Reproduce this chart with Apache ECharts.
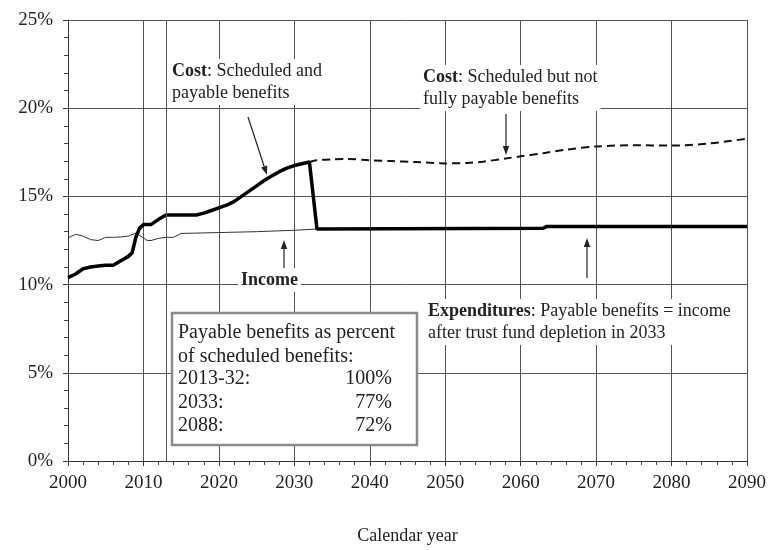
<!DOCTYPE html>
<html>
<head>
<meta charset="utf-8">
<script src="https://cdn.jsdelivr.net/npm/echarts@6/dist/echarts.min.js"></script>
<style>
  html, body { margin: 0; padding: 0; background: #fff; }
  #chart { width: 769px; height: 550px; }
</style>
</head>
<body>
<div id="chart"></div>
<script>
// cost rate, scheduled and payable (thick line), then payable = income after 2033
var payableYears = [2000, 2001, 2002, 2003, 2004, 2005, 2006, 2007, 2008, 2008.5, 2009, 2009.5, 2010, 2011, 2012, 2013,
    2014, 2015, 2016, 2017, 2018, 2019, 2020, 2021, 2022, 2023, 2024, 2025, 2026, 2027, 2028, 2029, 2030, 2031, 2032,
    2033, 2063, 2063.5, 2090];
var payablePct = [10.4, 10.6, 10.9, 11.0, 11.05, 11.1, 11.1, 11.35, 11.6, 11.8, 12.7, 13.2, 13.4, 13.4, 13.7, 13.95,
    13.95, 13.95, 13.95, 13.95, 14.05, 14.2, 14.35, 14.5, 14.7, 15.0, 15.3, 15.6, 15.9, 16.15, 16.4, 16.6, 16.75, 16.85, 16.95,
    13.15, 13.2, 13.3, 13.3];

// cost rate, scheduled but not fully payable (dashed)
var schedYears = [2032, 2033, 2035, 2037, 2040, 2043, 2046, 2050, 2053, 2055, 2058, 2060, 2063, 2066, 2070, 2075, 2080, 2085, 2090];
var schedPct = [16.95, 17.05, 17.1, 17.12, 17.05, 17.0, 16.95, 16.87, 16.9, 16.97, 17.15, 17.27, 17.45, 17.65, 17.83, 17.9, 17.88, 18.0, 18.27];

// income rate (thin line)
var incomeYears = [2000, 2001, 2002, 2003, 2004, 2005, 2006, 2007, 2008, 2009, 2010, 2010.5, 2011, 2012, 2013, 2014, 2015, 2020, 2025, 2030, 2033];
var incomePct = [12.65, 12.85, 12.75, 12.55, 12.5, 12.68, 12.68, 12.7, 12.75, 12.92, 12.65, 12.5, 12.5, 12.62, 12.68, 12.68, 12.9, 12.95, 13.0, 13.08, 13.15];

var boxRows = ['2013-32:', '2033:', '2088:'];
var boxVals = ['100%', '77%', '72%'];

function pairs(xs, ys) {
    return xs.map(function (x, i) { return [x, ys[i]]; });
}

var serif = '"Liberation Serif", "Times New Roman", serif';

function arrow(x1, y1, x2, y2) {
    var dx = x2 - x1, dy = y2 - y1;
    var len = Math.sqrt(dx * dx + dy * dy);
    var ux = dx / len, uy = dy / len;
    var hl = 9, hw = 3.2;
    var bx = x2 - ux * hl, by = y2 - uy * hl;
    return {
        type: 'group',
        children: [
            { type: 'line', z: 50, shape: { x1: x1, y1: y1, x2: bx, y2: by }, style: { stroke: '#222', lineWidth: 1.2 } },
            { type: 'polygon', z: 50, shape: { points: [[x2, y2], [bx - uy * hw, by + ux * hw], [bx + uy * hw, by - ux * hw]] },
              style: { fill: '#222' } }
        ]
    };
}

function note(x, y, text) {
    return {
        type: 'text', x: x, y: y, z: 50,
        style: {
            text: text,
            font: '18px ' + serif,
            fill: '#222',
            lineHeight: 22,
            backgroundColor: '#fff',
            padding: [1, 3],
            rich: { b: { fontFamily: serif, fontSize: 18, fontWeight: 'bold', fill: '#222', lineHeight: 22 } }
        }
    };
}

var chart = echarts.init(document.getElementById('chart'));

var boxItems = [
    { type: 'rect', z: 50, shape: { x: 172, y: 313, width: 245, height: 132 },
      style: { fill: '#fff', stroke: '#8a8a8a', lineWidth: 2.5 } },
    { type: 'text', z: 51, x: 178, y: 321, style: { text: 'Payable benefits as percent\nof scheduled benefits:', font: '20px ' + serif, fill: '#222', lineHeight: 23.5 } }
];
boxRows.forEach(function (r, i) {
    boxItems.push({ type: 'text', z: 51, x: 178, y: 367 + i * 23.5, style: { text: r, font: '20px ' + serif, fill: '#222', lineHeight: 23.5 } });
    boxItems.push({ type: 'text', z: 51, x: 392, y: 367 + i * 23.5, style: { text: boxVals[i], font: '20px ' + serif, fill: '#222', textAlign: 'right', lineHeight: 23.5 } });
});

var option = {
    animation: false,
    backgroundColor: '#fff',
    grid: { left: 68, right: 21, top: 20, bottom: 77 },
    xAxis: {
        type: 'value', min: 2000, max: 2090, interval: 10,
        name: 'Calendar year', nameLocation: 'middle', nameGap: 66,
        nameTextStyle: { fontFamily: serif, fontSize: 18, color: '#222' },
        axisLine: { show: true, lineStyle: { color: '#333', width: 1 } },
        axisTick: { show: true, length: 5, lineStyle: { color: '#333' } },
        minorTick: { show: true, splitNumber: 5, length: 4, lineStyle: { color: '#444' } },
        axisLabel: { fontFamily: serif, fontSize: 19, color: '#222', margin: 13,
            formatter: function (v) { return String(v); } },
        splitLine: { show: true, lineStyle: { color: '#555', width: 1 } }
    },
    yAxis: {
        type: 'value', min: 0, max: 25, interval: 5,
        axisLine: { show: true, lineStyle: { color: '#333', width: 1 } },
        axisTick: { show: true, length: 5, lineStyle: { color: '#333' } },
        minorTick: { show: true, splitNumber: 5, length: 4, lineStyle: { color: '#444' } },
        axisLabel: { fontFamily: serif, fontSize: 19, color: '#222', margin: 15, formatter: '{value}%' },
        splitLine: { show: true, lineStyle: { color: '#555', width: 1 } }
    },
    series: [
        {
            name: 'Income', type: 'line', data: pairs(incomeYears, incomePct),
            symbol: 'none', lineStyle: { color: '#333', width: 1 },
            markLine: {
                silent: true, symbol: 'none', label: { show: false },
                lineStyle: { color: '#555', width: 1, type: 'solid' },
                data: [{ xAxis: 2013 }]
            }
        },
        {
            name: 'Scheduled', type: 'line', data: pairs(schedYears, schedPct),
            symbol: 'none', smooth: 0.3,
            lineStyle: { color: '#111', width: 2, type: [8, 5] }
        },
        {
            name: 'Payable', type: 'line', data: pairs(payableYears, payablePct),
            symbol: 'none', lineStyle: { color: '#000', width: 3.5 }, z: 4
        }
    ],
    graphic: [
        note(169, 59, '{b|Cost}: Scheduled and\npayable benefits'),
        note(420, 65, '{b|Cost}: Scheduled but not\nfully payable benefits'),
        note(238, 268, '{b|Income}'),
        note(425, 299, '{b|Expenditures}: Payable benefits = income\nafter trust fund depletion in 2033'),
        arrow(248, 117, 267, 175),
        arrow(284, 268, 284, 240),
        arrow(506, 114, 506, 155),
        arrow(587, 278, 587, 238),
        { type: 'group', children: boxItems }
    ]
};

chart.setOption(option);
</script>
</body>
</html>
